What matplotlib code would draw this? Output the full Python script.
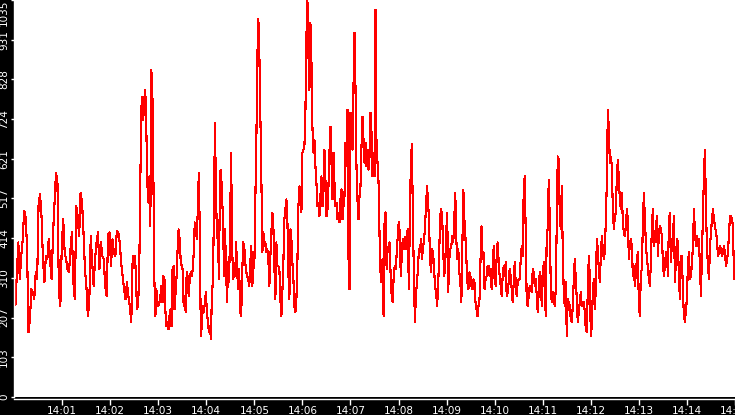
import numpy as np
import matplotlib
matplotlib.use("Agg")
import matplotlib.pyplot as plt
from matplotlib.ticker import FixedLocator, FuncFormatter

# values, one list per 2.5 minute stretch (14:00:00 -> 14:15:00)
seg_1400 = [315, 240, 325, 403, 307, 367, 410, 486, 470, 393, 169, 203, 281, 273, 255,
            325, 307, 507, 528, 471, 359, 299, 367, 359, 411, 351, 307, 429, 507, 585,
            559, 273, 237, 393, 463, 377, 359, 333, 325, 385, 429, 299, 255, 497, 471,
            419, 533, 507, 429, 333, 289, 211, 247, 419, 351, 289, 359, 403, 429, 333,
            403, 367, 359, 289, 263, 424, 429, 341, 411, 377, 367, 432, 429, 403, 351,
            315, 281, 255, 299, 263, 237, 195, 367]
seg_1402 = [341, 367, 281, 229, 247, 325, 541, 749, 783, 723, 775, 801, 705, 559, 507,
            575, 445, 853, 801, 585, 307, 211, 281, 247, 237, 247, 263, 289, 247, 315,
            307, 221, 185, 195, 177, 211, 229, 185, 333, 341, 229, 273, 315, 385, 437,
            411, 359, 341, 333, 237, 263, 221, 325, 315, 263, 307, 325, 315, 333, 377,
            455, 445, 411, 489, 585, 429, 159, 185, 237, 221, 247, 273, 221, 195, 169,
            185, 151, 273, 299, 489, 715, 533, 419, 411, 307, 585, 593, 523, 463, 315,
            437, 333, 247, 351, 299, 445, 637, 393, 307, 325, 315, 403, 325, 281, 333,
            221, 211, 325, 403, 393, 351, 325, 315, 307, 289, 351, 393, 289, 333]
seg_1405 = [341, 515, 663, 884, 985, 897, 741, 575, 377, 429, 393, 403, 377, 385, 359,
            289, 367, 429, 481, 445, 341, 255, 403, 341, 341, 333, 255, 211, 273, 351,
            463, 489, 515, 463, 325, 255, 437, 411, 351, 307, 237, 221, 255, 351, 497,
            549, 541, 481, 637, 645, 653, 741, 939, 1035, 897, 801, 975, 879, 705, 637,
            671, 601, 559, 497, 507, 471, 523, 575, 497, 533, 645, 567, 471, 489, 549,
            637, 705, 619, 515, 637, 559, 497, 507, 463, 481, 455, 515, 541, 463, 497,
            523, 663, 601, 749, 367, 281, 741, 671, 645, 809, 949, 809, 601, 515, 463,
            523, 549, 653, 731, 671, 611, 663, 601, 645, 593, 627, 741, 689, 575, 637]
seg_1407 = [575, 1010, 645, 611, 559, 419, 325, 299, 359, 211, 463, 481, 333, 385, 393,
            403, 315, 263, 247, 315, 341, 333, 377, 419, 455, 429, 315, 367, 411, 385,
            416, 385, 429, 437, 281, 463, 611, 660, 471, 315, 195, 263, 299, 333, 385,
            377, 411, 359, 393, 403, 445, 497, 549, 515, 455, 359, 325, 385, 377, 333,
            289, 273, 237, 289, 367, 471, 489, 471, 385, 315, 341, 429, 481, 273, 359,
            385, 393, 419, 403, 463, 533, 411, 359, 385, 325, 299, 247, 393, 541, 463,
            419, 359, 299, 281, 325, 315, 289, 281, 307, 299, 247, 229, 211, 237, 255,
            359, 445, 359, 377, 281, 307, 315, 341, 341, 315, 333, 281, 315, 393]
seg_1410 = [333, 289, 367, 403, 351, 315, 289, 263, 315, 341, 315, 351, 263, 273, 299,
            333, 315, 281, 247, 299, 351, 299, 263, 299, 307, 307, 359, 393, 367, 541,
            575, 429, 247, 237, 263, 289, 281, 273, 333, 325, 289, 307, 263, 221, 273,
            325, 315, 237, 307, 351, 289, 211, 429, 437, 567, 463, 289, 247, 273, 263,
            237, 281, 455, 627, 619, 471, 437, 549, 377, 273, 237, 299, 159, 255, 247,
            237, 203, 195, 237, 307, 359, 307, 255, 195, 221, 247, 273, 237, 247, 247,
            221, 177, 169, 281, 367, 315, 159, 185, 273, 307, 229, 281, 411, 385, 333,
            299, 367, 419, 385, 359, 377, 463, 559, 749, 700, 611, 627, 601, 489, 437]
seg_1412 = [471, 481, 575, 619, 567, 515, 489, 533, 455, 429, 419, 445, 489, 463, 359,
            403, 411, 393, 315, 341, 289, 325, 359, 377, 237, 211, 325, 333, 455, 533,
            463, 403, 359, 341, 307, 289, 351, 445, 489, 393, 411, 437, 471, 367, 429,
            445, 437, 419, 351, 315, 341, 377, 377, 315, 455, 481, 351, 403, 419, 471,
            299, 359, 411, 403, 307, 255, 367, 367, 273, 211, 195, 229, 255, 351, 377,
            307, 315, 351, 393, 489, 429, 393, 419, 393, 411, 333, 263, 377, 471, 585,
            645, 489, 393, 341, 307, 393, 429, 463, 489, 463, 445, 429, 411, 367, 377,
            393, 385, 367, 377, 393, 377, 341, 359, 377, 429, 471, 471, 463, 445, 307]

segments = [seg_1400, seg_1402, seg_1405, seg_1407, seg_1410, seg_1412]
seg_seconds = 150

y_ticks = [0, 103.5, 207, 310.5, 414, 517.5, 621, 724.5, 828, 931.5, 1035]
y_labels = ["0", "103", "207", "310", "414", "517", "621", "724", "828", "931", "1035"]
x_ticks = list(range(60, 901, 60))  # seconds after 14:00

t_parts = []
for i, seg in enumerate(segments):
    t_parts.append(np.linspace(i * seg_seconds, (i + 1) * seg_seconds, len(seg), endpoint=False))
t = np.concatenate(t_parts)
v = np.concatenate([np.asarray(s, dtype=float) for s in segments])

fig = plt.figure(figsize=(7.35, 4.15), dpi=100, facecolor="black")
ax = fig.add_axes([14 / 735, 18 / 415, 721 / 735, 397 / 415])
ax.set_facecolor("white")
ax.plot(t, v, color="#ff0000", lw=0.8, antialiased=False)

ax.set_xlim(0, 900)
ax.set_ylim(0, 1035)

for side in ("top", "right"):
    ax.spines[side].set_visible(False)
for side in ("left", "bottom"):
    ax.spines[side].set_color("white")
    ax.spines[side].set_linewidth(1.0)
ax.spines["bottom"].set_position(("outward", 1.5))

ax.xaxis.set_major_locator(FixedLocator(x_ticks))
ax.xaxis.set_major_formatter(FuncFormatter(lambda s, _: f"14:{int(round(s / 60)):02d}"))
ax.yaxis.set_major_locator(FixedLocator(y_ticks))
ax.set_yticklabels(y_labels, rotation=90, va="center")

ax.tick_params(axis="x", colors="white", length=4, width=1, pad=1, labelsize=7.5)
ax.tick_params(axis="y", colors="white", length=2.5, width=1, pad=1, labelsize=7.5)
ylabs = ax.get_yticklabels()
ylabs[-1].set_va("top")

fig.savefig("out.png", dpi=100, facecolor="black")
